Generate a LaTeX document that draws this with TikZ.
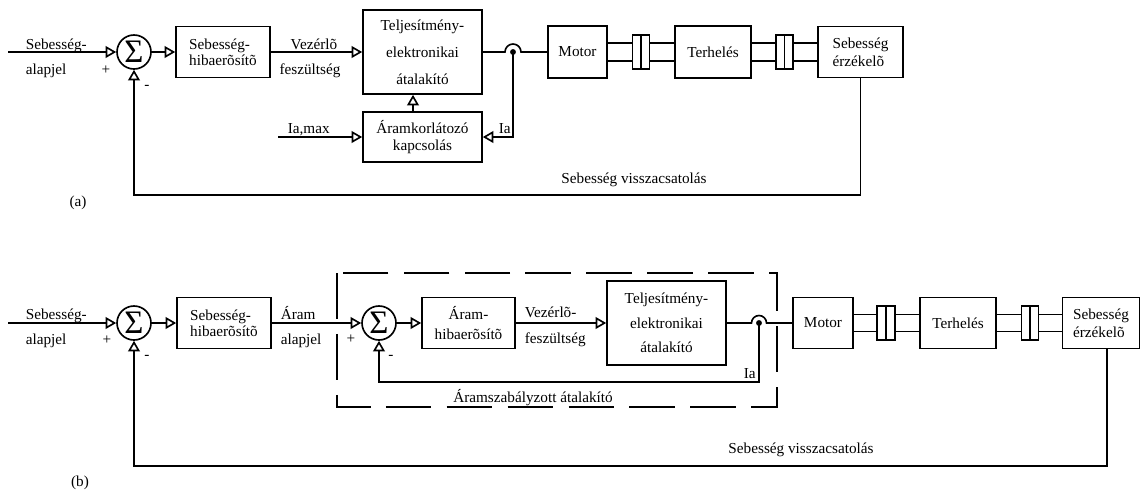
\documentclass[tikz,border=0pt]{standalone}
\usepackage{fontspec}
\setmainfont{Liberation Serif}
\usetikzlibrary{calc, arrows.meta}

\begin{document}
\begin{tikzpicture}[x=0.03cm, y=-0.03cm, line width=1.4pt,
	box/.style={draw, inner sep=1pt, align=center, minimum height=1.53cm, font=\fontsize{13}{14}\selectfont},
	sumnode/.style={circle, draw, minimum size=1.02cm, inner sep=0pt, font=\fontsize{28}{28}\selectfont},
	clutch/.style={draw, minimum width=0.5cm, minimum height=1.02cm, inner sep=0pt},
	lbl/.style={inner sep=0pt, anchor=base west, font=\fontsize{13}{14}\selectfont},
	pm/.style={inner sep=0pt, font=\fontsize{13}{14}\selectfont},
	arrow/.style={-{Triangle[open, length=9pt, width=10pt]}}]

	\useasboundingbox (0,0) rectangle (1141,491);

	% (a) elemek
	\node[sumnode] (sA) at (134,52) {Σ};
	\node[box, align=left, minimum width=2.82cm] (spdA) at (223,52) {Sebesség-\\hibaerõsítõ};
	\node[box, minimum width=3.57cm, minimum height=2.52cm] (convA) at (422.5,52) {Teljesítmény-\\[9pt]elektronikai\\[9pt]átalakító};
	\node[box, minimum width=3.57cm, minimum height=1.5cm] (limA) at (422.5,137) {Áramkorlátozó\\[1pt]kapcsolás};
	\node[box, minimum width=1.77cm, minimum height=1.56cm] (motorA) at (577.5,52) {Motor};
	\node[clutch] (cA1) at (641,52) {};
	\node[box, minimum width=2.28cm, minimum height=1.56cm] (loadA) at (713,52) {Terhelés};
	\node[clutch] (cA2) at (784.5,52) {};
	\node[box, align=left, minimum width=2.55cm] (sensA) at (860.5,52) {Sebesség\\[1pt]érzékelõ};

	% (a) feliratok
	\node[lbl] (inA1) at (25,49) {Sebesség-};
	\node[lbl] (inA2) at (25,74) {alapjel};
	\node[pm] (plA) at (106,70) {+};
	\node[pm] (mnA) at (147,87) {-};
	\node[lbl, anchor=base] (vzA1) at (314,49) {Vezérlõ};
	\node[lbl, anchor=base] (vzA2) at (310,74) {feszültség};
	\node[lbl] (maxA) at (287,133) {Ia,max};
	\node[lbl] (IaA) at (498,133) {Ia};
	\node[lbl, anchor=base] (fbAl) at (634,183) {Sebesség visszacsatolás};
	\node[pm] (capA) at (78,203) {(a)};

	% (a) kapcsolatok
	\coordinate (inA) at (8,52);
	\coordinate (ImaxA) at (278,137);
	\coordinate (jA) at (513,52);
	\coordinate (fbA) at (134,195);
	\draw[arrow] (inA) -- (sA);
	\draw[arrow] (sA) -- (spdA);
	\draw[arrow] (spdA) -- (convA);
	\draw[arrow] ([xshift=-0.285cm]limA.north) -- ([xshift=-0.285cm]convA.south);
	\draw[arrow] (ImaxA) -- (limA);
	\draw (convA) -- ($(jA)+(-8,0)$) arc[start angle=180, end angle=0, radius=0.24cm] -- (motorA);
	\fill (jA) circle[radius=2.5pt];
	\draw[arrow] (jA) |- (limA);
	\draw[arrow] (sensA.south) |- (fbA) -- (sA.south);

	% (b) elemek
	\node[sumnode] (sB) at (134,323) {Σ};
	\node[box, align=left, minimum width=2.82cm] (spdB) at (224,323) {Sebesség-\\hibaerõsítõ};
	\node[sumnode] (siB) at (379,323) {Σ};
	\node[box, minimum width=2.79cm] (curB) at (468.5,323) {Áram-\\[3pt]hibaerõsítõ};
	\node[box, minimum width=3.57cm, minimum height=2.52cm] (convB) at (666.5,323) {Teljesítmény-\\[7pt]elektronikai\\[7pt]átalakító};
	\node[box, minimum width=1.8cm] (motorB) at (823,323) {Motor};
	\node[clutch, minimum width=0.54cm] (cB1) at (886,323) {};
	\node[box, minimum width=2.28cm] (loadB) at (958,323) {Terhelés};
	\node[clutch] (cB2) at (1030,323) {};
	\node[box, align=left, minimum width=2.31cm] (sensB) at (1101,323) {Sebesség\\[1pt]érzékelõ};

	% (b) feliratok
	\node[lbl] (inB1) at (25,319) {Sebesség-};
	\node[lbl] (inB2) at (25,344) {alapjel};
	\node[pm] (plB) at (107,340) {+};
	\node[pm] (mnB) at (147,357) {-};
	\node[lbl] (arB1) at (280,319) {Áram};
	\node[lbl] (arB2) at (280,344) {alapjel};
	\node[pm] (pliB) at (351,339) {+};
	\node[pm] (mniB) at (391,357) {-};
	\node[lbl] (vzB1) at (524,317) {Vezérlõ-};
	\node[lbl] (vzB2) at (524,343) {feszültség};
	\node[lbl] (IaB) at (743,378) {Ia};
	\node[lbl, anchor=base] (ccB) at (533,402) {Áramszabályzott átalakító};
	\node[lbl, anchor=base] (fbBl) at (801,453) {Sebesség visszacsatolás};
	\node[pm] (capB) at (80,483) {(b)};

	% (b) kapcsolatok
	\coordinate (inB) at (8,323);
	\coordinate (jB) at (759,323);
	\coordinate (fbiB) at (379,382);
	\coordinate (fbB) at (134,466);
	\draw[arrow] (inB) -- (sB);
	\draw[arrow] (sB) -- (spdB);
	\draw[arrow] (spdB) -- (siB);
	\draw[arrow] (siB) -- (curB);
	\draw[arrow] (curB) -- (convB);
	\draw (convB) -- ($(jB)+(-7.5,0)$) arc[start angle=180, end angle=0, radius=0.225cm] -- (motorB);
	\fill (jB) circle[radius=2.5pt];
	\draw[arrow] (jB) |- (fbiB) -- (siB.south);
	\draw[arrow] ([xshift=0.18cm]sensB.south) |- (fbB) -- (sB.south);
	\draw[line width=1.1pt, dash pattern=on 39pt off 13pt] (337,273) rectangle (777,407);

	% tengelyek es tengelykapcsolok
	\foreach \a/\b/\d in {motorA/cA1/2.7mm, cA1/loadA/2.7mm, loadA/cA2/2.7mm, cA2/sensA/2.7mm,
		motorB/cB1/2.55mm, cB1/loadB/2.55mm, loadB/cB2/2.55mm, cB2/sensB/2.55mm}
		\draw ([yshift=\d]\a.east) -- ([yshift=\d]\b.west)
		      ([yshift=-\d]\a.east) -- ([yshift=-\d]\b.west);
	\foreach \c in {cA1, cA2, cB1, cB2}
		\draw (\c.north) -- (\c.south);

\end{tikzpicture}
\end{document}
